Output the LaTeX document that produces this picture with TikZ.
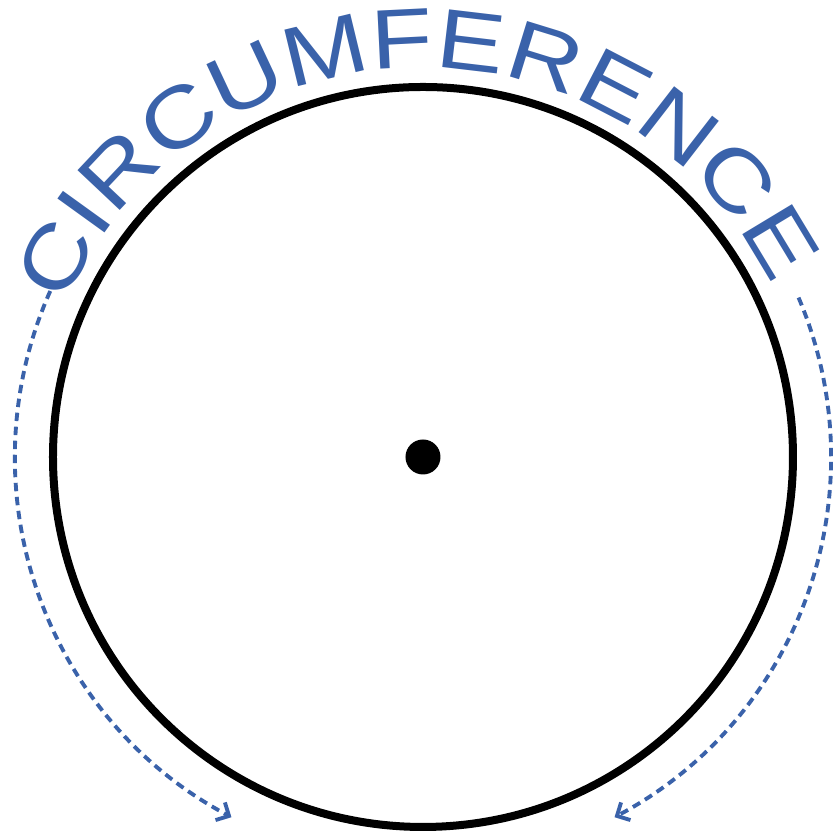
\documentclass[tikz,border=0pt]{standalone}
\usepackage{fontspec}
\usepackage{xcolor}
\usetikzlibrary{decorations.text, arrows.meta}
\newfontfamily\circfont{Liberation Sans}[FakeStretch=1.2]
\definecolor{circink}{HTML}{000000}
\definecolor{circblue}{HTML}{3A62AA}

\begin{document}
\begin{tikzpicture}[x=1cm, y=1cm, >={Straight Barb[length=1mm, width=2mm]},
                    arcline/.style={circblue, line width=1.1pt, dash pattern=on 2.4pt off 1.6pt, ->}]

  \useasboundingbox (-4.23,-3.75) rectangle (4.10,4.57);

  %% 圓周與圓心
  \draw[circink, line width=0.08cm] (0,0) circle (3.70);
  \fill[circink] (0,0) circle (0.175);

  %% 兩條虛線箭頭
  \draw[arcline] (156:4.08) arc[start angle=156, end angle=242, radius=4.08];
  \draw[arcline] (23:4.08) arc[start angle=23, end angle=-62, radius=4.08];

  %% 沿弧排列的文字
  \path[decorate, decoration={text along path, text align=fit to path, text color=circblue,
        text={|\circfont\fontsize{24}{24}\selectfont|CIRCUMFERENCE}}]
    (157:3.89) arc[start angle=157, end angle=29, radius=3.89];

\end{tikzpicture}
\end{document}
